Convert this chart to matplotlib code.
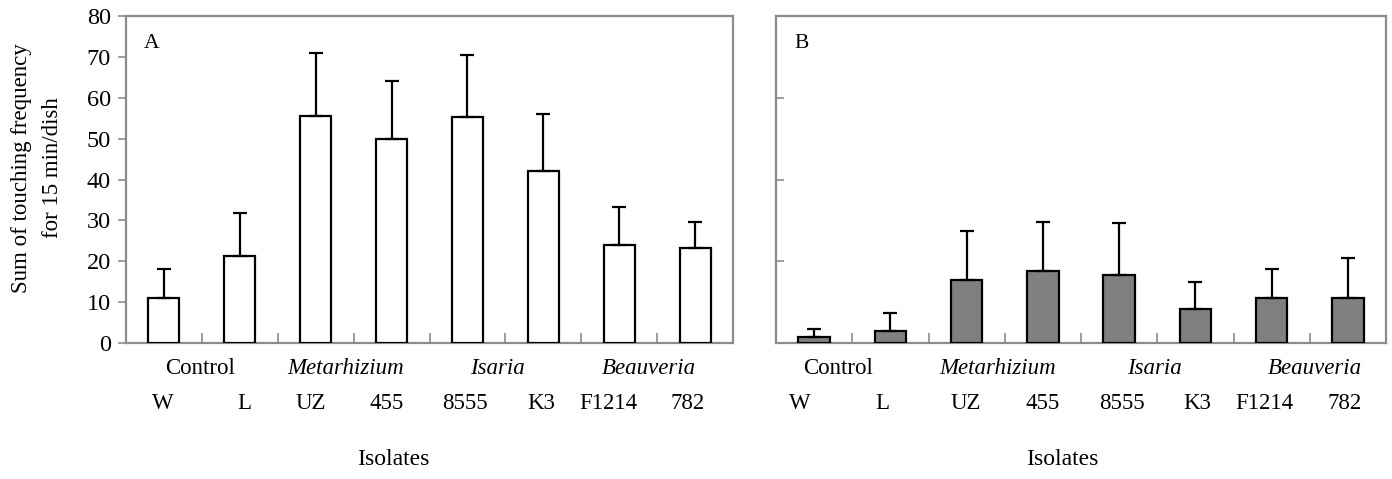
import matplotlib
matplotlib.use("Agg")
import matplotlib.pyplot as plt
import numpy as np

isolates = ["W", "L", "UZ", "455", "8555", "K3", "F1214", "782"]
genera = ["Control", "Metarhizium", "Isaria", "Beauveria"]
genus_italic = [False, True, True, True]

mean_A = [11.0, 21.3, 55.5, 49.9, 55.3, 42.1, 23.9, 23.2]
err_A = [7.1, 10.6, 15.5, 14.1, 15.2, 14.0, 9.3, 6.3]
mean_B = [1.5, 3.0, 15.4, 17.5, 16.7, 8.3, 10.9, 11.1]
err_B = [1.9, 4.3, 12.1, 12.2, 12.7, 6.6, 7.1, 9.6]

plt.rcParams['font.family'] = ['Liberation Serif', 'DejaVu Serif']

fig = plt.figure(figsize=(13.92, 4.79), dpi=100)
W, H = 1392, 479
def axpos(l, r, t, b):
    return [l / W, 1 - b / H, (r - l) / W, (b - t) / H]

axA = fig.add_axes(axpos(126, 733, 16, 343))
axB = fig.add_axes(axpos(776, 1386, 16, 343))

spine_col = "#8c8c8c"
x = np.arange(len(isolates))
fs = 16.5

# per-panel label layout (style only)
grp_pos = {"A": [0.48, 2.40, 4.39, 6.39], "B": [0.31, 2.41, 4.47, 6.57]}
lab_off = {"A": [-0.01, 0.06, -0.06, -0.06, -0.03, -0.03, -0.14, -0.1],
           "B": [-0.19, -0.1, -0.01, 0.0, 0.04, 0.02, -0.09, -0.04]}

def draw(ax, means, errs, color, letter, key, ylabels):
    ax.bar(x, means, width=0.41, color=color, edgecolor="black", linewidth=1.6, zorder=3)
    ax.errorbar(x, means, yerr=[np.zeros(len(errs)), errs], fmt="none", ecolor="black",
                elinewidth=1.6, capsize=5, capthick=1.6, zorder=4)
    ax.set_xlim(-0.5, len(isolates) - 0.5)
    ax.set_ylim(0, 80)
    ax.set_yticks(np.arange(0, 81, 10) if ylabels else [20, 40, 60])
    for s in ax.spines.values():
        s.set_color(spine_col)
        s.set_linewidth(1.6)
    ax.set_xticks(np.arange(0.5, len(isolates) - 0.5, 1.0))
    ax.set_xticklabels([])
    ax.tick_params(axis="x", direction="in", length=7, width=1.2, color=spine_col)
    if ylabels:
        ax.tick_params(axis="y", direction="out", length=6, width=1.2, color=spine_col,
                       labelsize=17.5, pad=5)
    else:
        ax.tick_params(axis="y", direction="in", length=6, width=1.2, color=spine_col,
                       labelleft=False)
    trans = ax.get_xaxis_transform()
    for g, p, it in zip(genera, grp_pos[key], genus_italic):
        ax.text(p, -0.079, g, transform=trans, ha="center", va="center", fontsize=fs,
                style="italic" if it else "normal")
    for i, (lab, o) in enumerate(zip(isolates, lab_off[key])):
        ax.text(i + o, -0.184, lab, transform=trans, ha="center", va="center", fontsize=fs)
    ax.text(0.44 if key == "A" else 0.47, -0.355, "Isolates", transform=ax.transAxes,
            ha="center", va="center", fontsize=17)
    ax.text(0.03, 0.915, letter, transform=ax.transAxes, ha="left", va="center", fontsize=15.5)

draw(axA, mean_A, err_A, "white", "A", "A", True)
draw(axB, mean_B, err_B, "#808080", "B", "B", False)

fig.text(22 / W, 1 - 168 / H, "Sum of touching frequency", rotation=90, ha="center",
         va="center", fontsize=16.5)
fig.text(52 / W, 1 - 168 / H, "for 15 min/dish", rotation=90, ha="center",
         va="center", fontsize=16.5)

fig.savefig("out.png", dpi=100)
